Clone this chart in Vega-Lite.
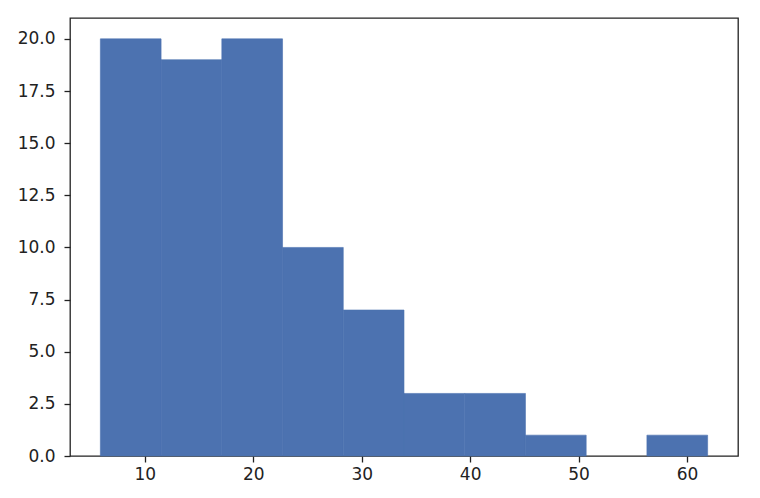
{
  "$schema": "https://vega.github.io/schema/vega-lite/v6.json",
  "width": 668,
  "height": 438,
  "autosize": "none",
  "padding": {"left": 70, "top": 18, "right": 22, "bottom": 42},
  "background": "white",
  "config": {
    "view": {"stroke": "#222", "strokeWidth": 1.3},
    "axis": {
      "grid": false,
      "domain": false,
      "tickColor": "#222",
      "tickSize": 6,
      "tickWidth": 1.3,
      "labelFont": "DejaVu Sans",
      "labelFontSize": 17,
      "labelColor": "#222",
      "title": null
    }
  },
  "data": {
    "values": [
      {"bin_start": 5.9, "bin_end": 11.5, "count": 20},
      {"bin_start": 11.5, "bin_end": 17.1, "count": 19},
      {"bin_start": 17.1, "bin_end": 22.7, "count": 20},
      {"bin_start": 22.7, "bin_end": 28.3, "count": 10},
      {"bin_start": 28.3, "bin_end": 33.9, "count": 7},
      {"bin_start": 33.9, "bin_end": 39.5, "count": 3},
      {"bin_start": 39.5, "bin_end": 45.1, "count": 3},
      {"bin_start": 45.1, "bin_end": 50.7, "count": 1},
      {"bin_start": 56.3, "bin_end": 61.9, "count": 1}
    ]
  },
  "mark": {"type": "rect", "color": "#4c72b0", "stroke": "#4c72b0", "strokeWidth": 0.6},
  "encoding": {
    "x": {
      "field": "bin_start",
      "type": "quantitative",
      "scale": {"domain": [3.1, 64.7], "nice": false, "zero": false},
      "axis": {"values": [10, 20, 30, 40, 50, 60], "format": "d", "labelPadding": 4}
    },
    "x2": {"field": "bin_end"},
    "y": {
      "field": "count",
      "type": "quantitative",
      "scale": {"domain": [0, 21], "nice": false},
      "axis": {"values": [0, 2.5, 5, 7.5, 10, 12.5, 15, 17.5, 20], "format": ".1f", "labelPadding": 9}
    },
    "y2": {"datum": 0}
  }
}
